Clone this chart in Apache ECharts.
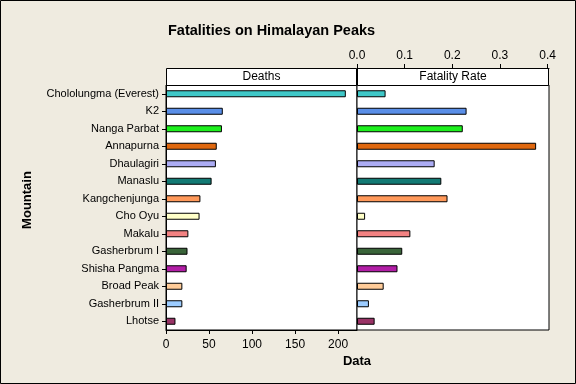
<!DOCTYPE html>
<html><head><meta charset="utf-8">
<script src="https://cdn.jsdelivr.net/npm/echarts@6/dist/echarts.min.js"></script>
<style>html,body{margin:0;padding:0;background:#EFEBE0}#c{width:576px;height:384px}</style>
</head><body><div id="c"></div>
<script>
const mountains = ["Chololungma (Everest)","K2","Nanga Parbat","Annapurna","Dhaulagiri","Manaslu","Kangchenjunga","Cho Oyu","Makalu","Gasherbrum I","Shisha Pangma","Broad Peak","Gasherbrum II","Lhotse"];
const deaths = [209, 66, 65, 59, 58, 53, 40, 39, 26, 25, 24, 19, 19, 11];
const fatalityRate = [0.060, 0.230, 0.222, 0.376, 0.163, 0.177, 0.190, 0.017, 0.112, 0.095, 0.085, 0.056, 0.025, 0.037];
const colors = ["#3FC8C8","#5A8FE8","#1EF01E","#E0680F","#ACACF4","#137A74","#FF995A","#FFFFC8","#F28282","#3A643A","#B21EA6","#FFCC99","#9CCCFF","#993366"];
const deathTicks = [0, 50, 100, 150, 200];
const rateTicks = [0, 0.1, 0.2, 0.3, 0.4];

const font = "Liberation Sans";
const chart = echarts.init(document.getElementById('c'), null, {renderer: 'canvas'});
const barData = (vals) => vals.map((v, i) => ({value: v, itemStyle: {color: colors[i]}}));
chart.setOption({
  backgroundColor: '#EFEBE0',
  animation: false,
  title: {text: 'Fatalities on Himalayan Peaks', left: 163, top: 18,
    textStyle: {fontFamily: font, fontSize: 14.5, fontWeight: 'bold', color: '#000'}},
  grid: [
    {left: 166, right: 219, top: 85, bottom: 54, show: true, backgroundColor: '#fff', borderColor: '#000', borderWidth: 1},
    {left: 357, right: 27, top: 85, bottom: 54, show: true, backgroundColor: '#fff', borderColor: '#000', borderWidth: 1}
  ],
  xAxis: [
    {gridIndex: 0, type: 'value', min: 0, max: 222, position: 'bottom',
      splitLine: {show: false},
      axisLine: {show: true, lineStyle: {color: '#000'}},
      axisTick: {show: true, length: 4, customValues: deathTicks, lineStyle: {color: '#000'}},
      axisLabel: {customValues: deathTicks, fontFamily: font, fontSize: 12, color: '#000', margin: 9}},
    {gridIndex: 1, type: 'value', min: 0, max: 0.403, position: 'top', offset: 17,
      splitLine: {show: false},
      axisLine: {show: true, lineStyle: {color: '#000'}},
      axisTick: {show: true, length: 4, customValues: rateTicks, lineStyle: {color: '#000'}},
      axisLabel: {customValues: rateTicks, fontFamily: font, fontSize: 12, color: '#000', margin: 6,
        formatter: v => v.toFixed(1)}}
  ],
  yAxis: [
    {gridIndex: 0, type: 'category', data: mountains, inverse: true,
      axisLine: {show: true, lineStyle: {color: '#000'}},
      axisTick: {show: true, alignWithLabel: true, length: 4, lineStyle: {color: '#000'}},
      axisLabel: {fontFamily: font, fontSize: 11, color: '#000', margin: 7}},
    {gridIndex: 1, type: 'category', data: mountains, inverse: true,
      axisLine: {show: false}, axisTick: {show: false}, axisLabel: {show: false}}
  ],
  series: [
    {type: 'bar', xAxisIndex: 0, yAxisIndex: 0, data: barData(deaths), barWidth: 7,
      itemStyle: {borderColor: '#000', borderWidth: 1}},
    {type: 'bar', xAxisIndex: 1, yAxisIndex: 1, data: barData(fatalityRate), barWidth: 7,
      itemStyle: {borderColor: '#000', borderWidth: 1}}
  ],
  graphic: [
    {type: 'rect', shape: {x: 0.5, y: 0.5, width: 575, height: 383}, style: {fill: 'none', stroke: '#000', lineWidth: 1}, z: 100},
    {type: 'rect', shape: {x: 166.5, y: 68.5, width: 190, height: 17}, style: {fill: '#fff', stroke: '#000', lineWidth: 1}},
    {type: 'text', x: 261.5, y: 77, style: {text: 'Deaths', fontFamily: font, fontSize: 12, fill: '#000', align: 'center', verticalAlign: 'middle'}},
    {type: 'rect', shape: {x: 357.5, y: 68.5, width: 191, height: 17}, style: {fill: '#fff', stroke: '#000', lineWidth: 1}},
    {type: 'text', x: 453, y: 77, style: {text: 'Fatality Rate', fontFamily: font, fontSize: 12, fill: '#000', align: 'center', verticalAlign: 'middle'}},
    {type: 'text', x: 357, y: 361, style: {text: 'Data', fontFamily: font, fontSize: 13, fontWeight: 'bold', fill: '#000', align: 'center', verticalAlign: 'middle'}},
    {type: 'text', x: 27, y: 200, rotation: Math.PI / 2, style: {text: 'Mountain', fontFamily: font, fontSize: 13, fontWeight: 'bold', fill: '#000', align: 'center', verticalAlign: 'middle'}}
  ]
});
</script></body></html>
